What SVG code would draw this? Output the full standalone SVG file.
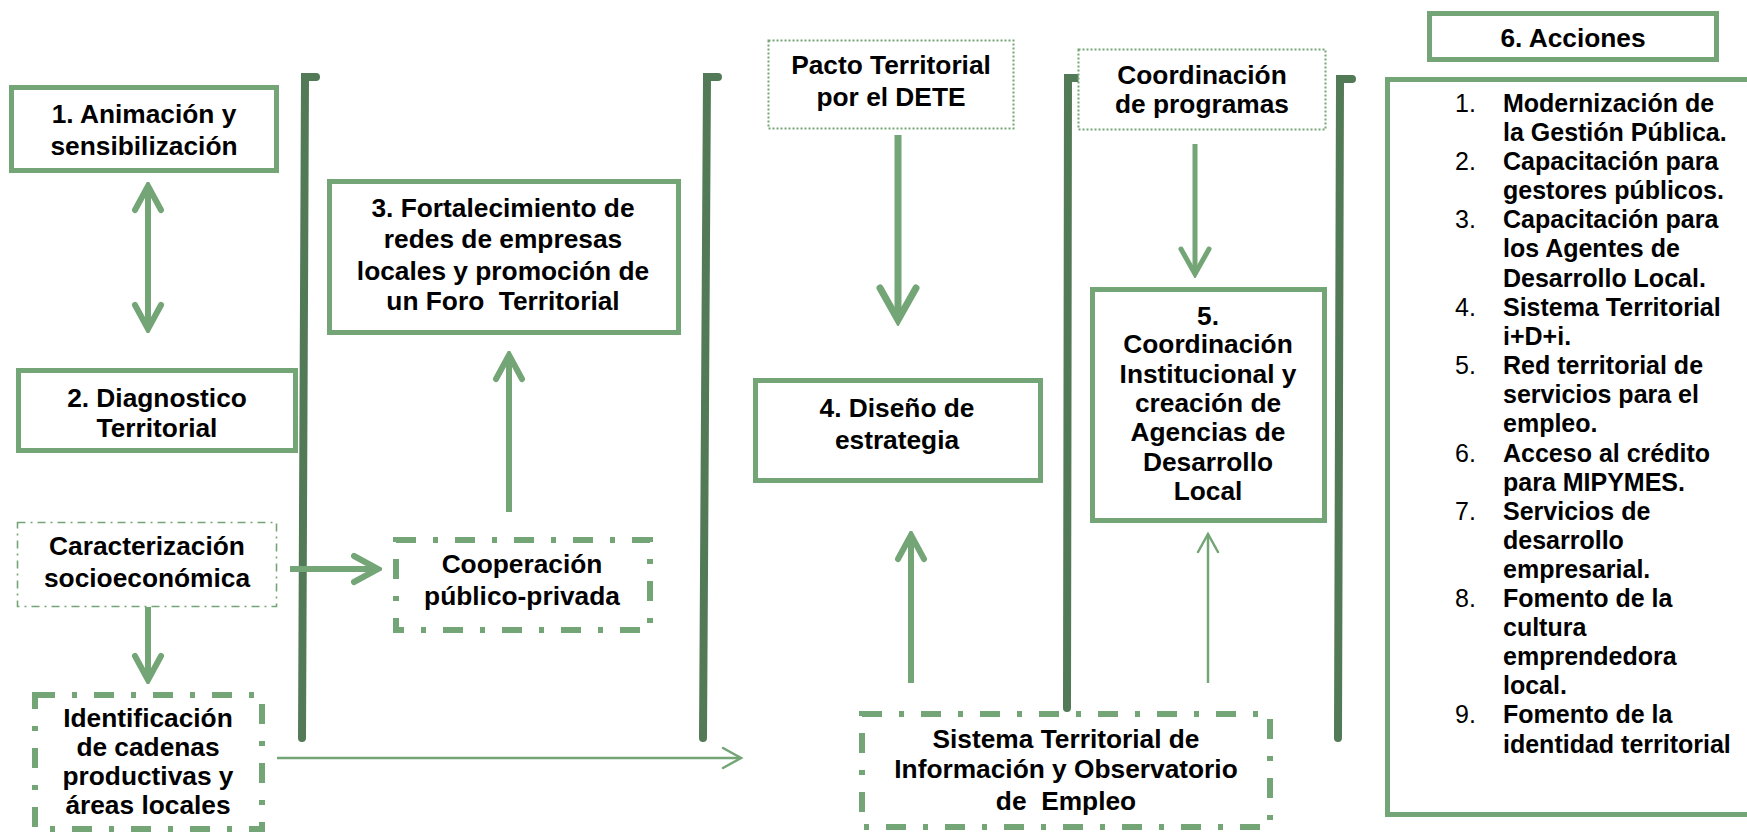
<svg xmlns="http://www.w3.org/2000/svg" width="1747" height="833" viewBox="0 0 1747 833">
<style>
  .box { fill: #ffffff; stroke: #74A576; stroke-width: 5; }
  .dd { fill: #ffffff; stroke: #74A576; stroke-width: 6; stroke-dasharray: 20 17 5 17; }
  .ddthin { fill: #ffffff; stroke: #74A576; stroke-width: 1.6; stroke-dasharray: 8 5 2 5; }
  .dot { fill: #ffffff; stroke: #74A576; stroke-width: 2; stroke-dasharray: 2 2; }
  .bar { fill: none; stroke: #527A56; stroke-width: 8; stroke-linecap: round; stroke-linejoin: miter; }
  .t { font-family: "Liberation Sans", Arial, sans-serif; font-weight: bold; font-size: 26.3px; fill: #000; text-anchor: middle; }
  .li { font-family: "Liberation Sans", Arial, sans-serif; font-weight: bold; font-size: 25px; fill: #000; }
  .num { font-family: "Liberation Sans", Arial, sans-serif; font-weight: normal; font-size: 25px; fill: #000; }
  .c6 { fill: none; stroke: #74A576; stroke-width: 6; }
  .c7 { fill: none; stroke: #74A576; stroke-width: 7; }
  .c5 { fill: none; stroke: #74A576; stroke-width: 5; }
  .c2 { fill: none; stroke: #74A576; stroke-width: 2.5; }
</style>
<defs>
  <marker id="hMed" markerUnits="userSpaceOnUse" viewBox="-30 -18 34 36" markerWidth="34" markerHeight="36" refX="0" refY="0" orient="auto-start-reverse">
    <path d="M-24,-13 L0,0 L-24,13" fill="none" stroke="#74A576" stroke-width="6" stroke-linecap="round" stroke-linejoin="miter"/>
  </marker>
  <marker id="hBig" markerUnits="userSpaceOnUse" viewBox="-40 -24 46 48" markerWidth="46" markerHeight="48" refX="0" refY="0" orient="auto-start-reverse">
    <path d="M-32,-18 L0,0 L-32,18" fill="none" stroke="#74A576" stroke-width="7" stroke-linecap="round" stroke-linejoin="miter"/>
  </marker>
  <marker id="hMid5" markerUnits="userSpaceOnUse" viewBox="-32 -20 36 40" markerWidth="36" markerHeight="40" refX="0" refY="0" orient="auto-start-reverse">
    <path d="M-25,-14 L0,0 L-25,14" fill="none" stroke="#74A576" stroke-width="5" stroke-linecap="round" stroke-linejoin="miter"/>
  </marker>
  <marker id="hThin" markerUnits="userSpaceOnUse" viewBox="-24 -14 28 28" markerWidth="28" markerHeight="28" refX="0" refY="0" orient="auto-start-reverse">
    <path d="M-18,-10 L0,0 L-18,10" fill="none" stroke="#74A576" stroke-width="2.5" stroke-linecap="round" stroke-linejoin="miter"/>
  </marker>
</defs>
<rect x="0" y="0" width="1747" height="833" fill="#ffffff"/>

<g id="separators">
  <path class="bar" d="M302,738 L305,77 L316,77"/>
  <path class="bar" d="M703,738 L707,77 L718,77"/>
  <path class="bar" d="M1067,708 L1068,78 L1080,78"/>
  <path class="bar" d="M1338,738 L1340,79 L1352,79"/>
</g>

<g id="node-animacion">
  <rect class="box" x="11.5" y="87.5" width="265" height="83"/>
  <text class="t" x="144" y="123">1. Animación y</text>
  <text class="t" x="144" y="155">sensibilización</text>
</g>
<g id="node-diagnostico">
  <rect class="box" x="18.5" y="370.5" width="277" height="80"/>
  <text class="t" x="157" y="407">2. Diagnostico</text>
  <text class="t" x="157" y="437">Territorial</text>
</g>
<g id="node-caracterizacion">
  <rect class="ddthin" x="17.5" y="522.5" width="259" height="84"/>
  <text class="t" x="147" y="555">Caracterización</text>
  <text class="t" x="147" y="587">socioeconómica</text>
</g>
<g id="node-identificacion">
  <rect class="dd" x="35" y="695" width="227" height="134"/>
  <text class="t" x="148" y="727">Identificación</text>
  <text class="t" x="148" y="756">de cadenas</text>
  <text class="t" x="148" y="785">productivas y</text>
  <text class="t" x="148" y="814">áreas locales</text>
</g>
<g id="node-fortalecimiento">
  <rect class="box" x="329.5" y="181.5" width="349" height="151"/>
  <text class="t" x="503" y="217">3. Fortalecimiento de</text>
  <text class="t" x="503" y="248">redes de empresas</text>
  <text class="t" x="503" y="280">locales y promoción de</text>
  <text class="t" x="503" y="310" xml:space="preserve">un Foro  Territorial</text>
</g>
<g id="node-cooperacion">
  <rect class="dd" x="396" y="540" width="254" height="90"/>
  <text class="t" x="522" y="573">Cooperación</text>
  <text class="t" x="522" y="605">público-privada</text>
</g>
<g id="node-pacto">
  <rect class="dot" x="768.5" y="40.5" width="245" height="88"/>
  <text class="t" x="891" y="74">Pacto Territorial</text>
  <text class="t" x="891" y="106">por el DETE</text>
</g>
<g id="node-diseno">
  <rect class="box" x="755.5" y="380.5" width="285" height="100"/>
  <text class="t" x="897" y="417">4. Diseño de</text>
  <text class="t" x="897" y="449">estrategia</text>
</g>
<g id="node-sistema">
  <rect class="dd" x="862" y="714" width="408" height="113"/>
  <text class="t" x="1066" y="748">Sistema Territorial de</text>
  <text class="t" x="1066" y="778">Información y Observatorio</text>
  <text class="t" x="1066" y="810" xml:space="preserve">de  Empleo</text>
</g>
<g id="node-coordprog">
  <rect class="dot" x="1078.5" y="49.5" width="247" height="80"/>
  <text class="t" x="1202" y="84">Coordinación</text>
  <text class="t" x="1202" y="113">de programas</text>
</g>
<g id="node-coordinst">
  <rect class="box" x="1092.5" y="289.5" width="232" height="231"/>
  <text class="t" x="1208" y="325">5.</text>
  <text class="t" x="1208" y="353">Coordinación</text>
  <text class="t" x="1208" y="383">Institucional y</text>
  <text class="t" x="1208" y="412">creación de</text>
  <text class="t" x="1208" y="441">Agencias de</text>
  <text class="t" x="1208" y="471">Desarrollo</text>
  <text class="t" x="1208" y="500">Local</text>
</g>
<g id="node-acciones-title">
  <rect class="box" x="1429.5" y="13.5" width="287" height="46"/>
  <text class="t" x="1573" y="47">6. Acciones</text>
</g>
<g id="node-acciones-list">
  <rect class="box" x="1387.5" y="79.5" width="400" height="735"/>
  <text class="num" x="1455" y="112">1.</text>
  <text class="li" x="1503" y="112">Modernización de</text>
  <text class="li" x="1503" y="141">la Gestión Pública.</text>
  <text class="num" x="1455" y="170">2.</text>
  <text class="li" x="1503" y="170">Capacitación para</text>
  <text class="li" x="1503" y="199">gestores públicos.</text>
  <text class="num" x="1455" y="228">3.</text>
  <text class="li" x="1503" y="228">Capacitación para</text>
  <text class="li" x="1503" y="257">los Agentes de</text>
  <text class="li" x="1503" y="287">Desarrollo Local.</text>
  <text class="num" x="1455" y="316">4.</text>
  <text class="li" x="1503" y="316">Sistema Territorial</text>
  <text class="li" x="1503" y="345">i+D+i.</text>
  <text class="num" x="1455" y="374">5.</text>
  <text class="li" x="1503" y="374">Red territorial de</text>
  <text class="li" x="1503" y="403">servicios para el</text>
  <text class="li" x="1503" y="432">empleo.</text>
  <text class="num" x="1455" y="462">6.</text>
  <text class="li" x="1503" y="462">Acceso al crédito</text>
  <text class="li" x="1503" y="491">para MIPYMES.</text>
  <text class="num" x="1455" y="520">7.</text>
  <text class="li" x="1503" y="520">Servicios de</text>
  <text class="li" x="1503" y="549">desarrollo</text>
  <text class="li" x="1503" y="578">empresarial.</text>
  <text class="num" x="1455" y="607">8.</text>
  <text class="li" x="1503" y="607">Fomento de la</text>
  <text class="li" x="1503" y="636">cultura</text>
  <text class="li" x="1503" y="665">emprendedora</text>
  <text class="li" x="1503" y="694">local.</text>
  <text class="num" x="1455" y="723">9.</text>
  <text class="li" x="1503" y="723">Fomento de la</text>
  <text class="li" x="1503" y="753">identidad territorial</text>
</g>

<g id="connectors">
  <path class="c6" d="M148,186 L148,329" marker-start="url(#hMed)" marker-end="url(#hMed)"/>
  <path class="c6" d="M148,607 L148,680" marker-end="url(#hMed)"/>
  <path class="c6" d="M290,569 L378,569" marker-end="url(#hMed)"/>
  <path class="c6" d="M509,512 L509,355" marker-end="url(#hMed)"/>
  <path class="c2" d="M277,758 L741,758" marker-end="url(#hThin)"/>
  <path class="c7" d="M898,135 L898,320" marker-end="url(#hBig)"/>
  <path class="c6" d="M911,683 L911,535" marker-end="url(#hMed)"/>
  <path class="c5" d="M1195,144 L1195,274" marker-end="url(#hMid5)"/>
  <path class="c2" d="M1208,683 L1208,534" marker-end="url(#hThin)"/>
</g>
</svg>
